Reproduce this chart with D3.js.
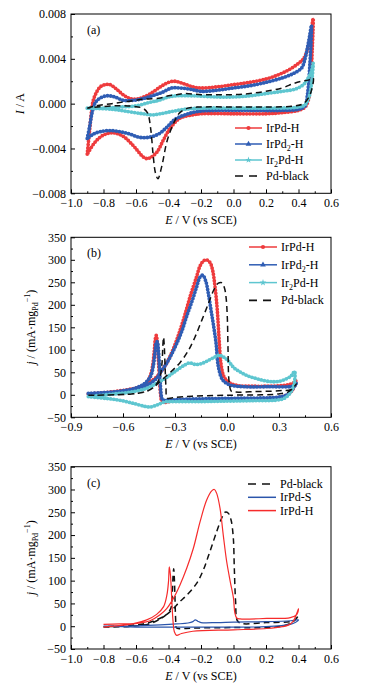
<!DOCTYPE html>
<html>
<head>
<meta charset="utf-8">
<script src="https://cdn.jsdelivr.net/npm/d3@7"></script>
<style>
    body { margin: 0; background: #fff; }
    text { font-family: "Liberation Serif", "Times New Roman", serif; }
</style>
</head>
<body>
<svg id="chart" width="381" height="691"></svg>
<script>
// ---- panel (a): I / A vs E / V ----
const aIrPdH = [[-0.90,-0.0045],[-0.887,-0.0026],[-0.873,-0.0006],[-0.863,0.0003],[-0.84,0.0011],[-0.82,0.0015],[-0.79,0.0017],[-0.76,0.0017],[-0.72,0.0013],[-0.67,0.0007],[-0.62,0.0004],[-0.57,0.0005],[-0.51,0.0009],[-0.45,0.0015],[-0.40,0.0019],[-0.36,0.0020],[-0.31,0.0018],[-0.25,0.0015],[-0.20,0.0014],[-0.10,0.0015],[0.00,0.0017],[0.10,0.0019],[0.20,0.0022],[0.28,0.0026],[0.35,0.0031],[0.40,0.0036],[0.43,0.0040],[0.45,0.0046],[0.465,0.0054],[0.478,0.0064],[0.49,0.0076],
    [0.485,0.0050],[0.475,0.0022],[0.46,0.0003],[0.44,-0.0003],[0.40,-0.0006],[0.30,-0.0008],[0.20,-0.0009],[0.00,-0.0009],[-0.20,-0.0009],[-0.25,-0.0010],[-0.33,-0.0013],[-0.39,-0.0022],[-0.43,-0.0032],[-0.47,-0.0043],[-0.51,-0.0048],[-0.535,-0.0049],[-0.56,-0.0047],[-0.59,-0.0042],[-0.62,-0.0037],[-0.68,-0.0029],[-0.74,-0.0026],[-0.80,-0.0028],[-0.85,-0.0034],[-0.90,-0.0045]];
const aIrPd2H = [[-0.90,-0.0031],[-0.885,-0.0020],[-0.87,-0.0008],[-0.85,0.0001],[-0.82,0.0005],[-0.78,0.0007],[-0.73,0.0006],[-0.68,0.0003],[-0.62,0.0003],[-0.57,0.0004],[-0.50,0.0007],[-0.44,0.0010],[-0.38,0.0014],[-0.33,0.0014],[-0.27,0.0013],[-0.20,0.0011],[-0.10,0.0012],[0.00,0.0014],[0.10,0.0016],[0.20,0.0019],[0.30,0.0023],[0.37,0.0027],[0.42,0.0032],[0.44,0.0040],[0.455,0.0050],[0.468,0.0060],[0.48,0.0070],
    [0.47,0.0035],[0.455,0.0008],[0.44,-0.0002],[0.40,-0.0005],[0.30,-0.0006],[0.10,-0.0006],[-0.10,-0.0006],[-0.22,-0.0007],[-0.30,-0.0010],[-0.36,-0.0014],[-0.41,-0.0021],[-0.46,-0.0027],[-0.52,-0.0030],[-0.58,-0.0030],[-0.64,-0.0027],[-0.70,-0.0025],[-0.76,-0.0024],[-0.82,-0.0025],[-0.86,-0.0027],[-0.90,-0.0031]];
const aIr2PdH = [[-0.90,-0.0004],[-0.80,-0.0004],[-0.70,-0.0003],[-0.60,-0.0002],[-0.52,0.0001],[-0.46,0.0003],[-0.40,0.0006],[-0.35,0.0007],[-0.25,0.0007],[-0.10,0.0006],[0.00,0.0006],[0.10,0.0007],[0.20,0.0009],[0.30,0.0011],[0.38,0.0013],[0.43,0.0017],[0.46,0.0023],[0.48,0.0029],[0.49,0.0036],
    [0.48,0.0018],[0.465,0.0006],[0.44,-0.0001],[0.40,-0.0003],[0.20,-0.0004],[0.00,-0.0004],[-0.20,-0.0004],[-0.30,-0.0005],[-0.38,-0.0007],[-0.45,-0.0009],[-0.50,-0.0010],[-0.56,-0.0009],[-0.65,-0.0007],[-0.75,-0.0005],[-0.90,-0.0004]];
const aPdBlack = [[-0.90,-0.0004],[-0.85,-0.0002],[-0.75,0.0000],[-0.65,0.0002],[-0.55,0.0004],[-0.45,0.0005],[-0.40,0.0007],[-0.35,0.0008],[-0.30,0.0009],[-0.20,0.0008],[-0.10,0.0008],[0.00,0.0008],[0.10,0.0009],[0.20,0.0011],[0.30,0.0014],[0.37,0.0018],[0.42,0.0020],[0.46,0.0021],[0.49,0.0023],
    [0.48,0.0012],[0.46,0.0005],[0.43,0.0000],[0.38,-0.0002],[0.20,-0.0003],[0.00,-0.0003],[-0.20,-0.0003],[-0.28,-0.0004],[-0.33,-0.0008],[-0.37,-0.0018],[-0.41,-0.0034],[-0.44,-0.0055],[-0.465,-0.0067],[-0.48,-0.0062],[-0.495,-0.0045],[-0.51,-0.0022],[-0.53,-0.0008],[-0.56,-0.0004],[-0.65,-0.0002],[-0.75,-0.0002],[-0.90,-0.0004]];

// ---- panel (b): j / (mA mgPd-1) vs E / V ----
const bIrPdH = [[-0.80,2],[-0.70,4],[-0.60,8],[-0.52,15],[-0.47,25],[-0.445,40],[-0.43,62],[-0.42,95],[-0.413,125],[-0.408,132],[-0.403,120],[-0.397,85],[-0.39,40],[-0.383,0],[-0.375,-15],[-0.36,-17],[-0.32,-14],[-0.20,-12],[0.00,-11],[0.20,-9],[0.30,-6],[0.35,0],[0.38,12],[0.40,32],
    [0.39,28],[0.37,24],[0.30,20],[0.15,19],[0.07,20],[0.017,26],[-0.017,40],[-0.035,70],[-0.044,114],[-0.056,188],[-0.069,240],[-0.083,277],[-0.098,294],[-0.12,300],[-0.137,297],[-0.156,286],[-0.175,263],[-0.213,218],[-0.252,166],[-0.29,122],[-0.329,85],[-0.367,59],[-0.406,40],[-0.444,29],[-0.50,18],[-0.58,11],[-0.70,5],[-0.80,2]];
const bIrPd2H = [[-0.80,3],[-0.70,5],[-0.60,9],[-0.52,16],[-0.47,27],[-0.44,42],[-0.425,65],[-0.415,95],[-0.408,115],[-0.402,118],[-0.396,100],[-0.39,65],[-0.384,20],[-0.378,-4],[-0.37,-12],[-0.35,-12],[-0.25,-10],[0.00,-8],[0.20,-7],[0.30,-5],[0.35,1],[0.38,14],[0.40,26],
    [0.39,20],[0.36,18],[0.25,18],[0.10,18],[0.017,22],[-0.025,33],[-0.05,63],[-0.063,114],[-0.08,160],[-0.092,188],[-0.108,226],[-0.122,252],[-0.14,266],[-0.155,262],[-0.175,240],[-0.20,210],[-0.233,174],[-0.26,142],[-0.29,114],[-0.32,90],[-0.348,70],[-0.38,52],[-0.406,37],[-0.44,26],[-0.48,18],[-0.54,11],[-0.65,6],[-0.80,3]];
const bIr2PdH = [[-0.80,-4],[-0.70,-8],[-0.62,-12],[-0.54,-19],[-0.47,-26],[-0.44,-27],[-0.40,-22],[-0.36,-16],[-0.30,-15],[-0.15,-15],[0.00,-14],[0.15,-13],[0.28,-12],[0.33,-8],[0.36,2],[0.38,15],[0.39,30],
    [0.39,52],[0.37,42],[0.34,35],[0.30,30],[0.27,29],[0.22,31],[0.17,36],[0.12,42],[0.08,50],[0.04,60],[0.01,74],[-0.02,84],[-0.045,88],[-0.07,84],[-0.10,78],[-0.13,72],[-0.16,68],[-0.19,68],[-0.215,71],[-0.24,67],[-0.27,60],[-0.31,49],[-0.35,38],[-0.40,27],[-0.46,15],[-0.54,7],[-0.65,2],[-0.80,-4]];
const bPdBlack = [[-0.80,-1],[-0.65,0],[-0.55,2],[-0.48,6],[-0.43,15],[-0.40,28],[-0.385,42],[-0.375,70],[-0.37,110],[-0.366,128],[-0.362,110],[-0.357,60],[-0.352,15],[-0.348,-6],[-0.34,-8],[-0.30,-6],[-0.20,-3],[0.00,-1],[0.20,0],[0.30,2],[0.35,6],[0.38,14],[0.40,24],
    [0.37,12],[0.30,9],[0.15,7],[0.05,6],[0.025,8],[0.012,30],[0.006,100],[0.002,170],[-0.005,215],[-0.015,238],[-0.03,249],[-0.05,248],[-0.075,234],[-0.105,205],[-0.145,166],[-0.185,128],[-0.225,97],[-0.27,72],[-0.31,56],[-0.35,42],[-0.39,28],[-0.45,10],[-0.55,2],[-0.80,-1]];

// ---- panel (c) ----
const cPdBlack = [[-0.80,-2],[-0.62,0],[-0.52,5],[-0.45,16],[-0.41,27],[-0.385,40],[-0.377,70],[-0.372,110],[-0.368,126],[-0.364,105],[-0.36,60],[-0.356,15],[-0.352,-3],[-0.34,-5],[-0.25,-4],[0.00,-3],[0.20,-3],[0.30,0],[0.35,6],[0.38,14],[0.40,24],
    [0.38,14],[0.35,10],[0.20,8],[0.05,6],[0.024,12],[0.013,54],[0.005,127],[-0.001,193],[-0.015,233],[-0.032,248],[-0.052,250],[-0.073,237],[-0.104,207],[-0.145,164],[-0.186,123],[-0.227,94],[-0.288,68],[-0.33,54],[-0.37,39],[-0.41,26],[-0.473,14],[-0.555,5],[-0.80,-1]];
const cIrPdS = [[-0.80,0],[-0.60,1],[-0.45,3],[-0.35,5],[-0.28,7],[-0.25,10],[-0.235,14],[-0.22,11],[-0.20,8],[-0.10,8],[0.00,9],[0.20,10],[0.35,12],[0.40,14],
    [0.38,8],[0.35,4],[0.20,-1],[0.00,-2],[-0.20,-2],[-0.40,-2],[-0.60,-2],[-0.80,0]];
const cIrPdH = [[-0.80,4],[-0.70,5],[-0.616,6],[-0.534,14],[-0.473,26],[-0.43,43],[-0.41,68],[-0.40,98],[-0.395,130],[-0.388,112],[-0.38,60],[-0.372,10],[-0.364,-12],[-0.35,-20],[-0.32,-16],[-0.25,-11],[0.00,-8],[0.204,-5],[0.30,-1],[0.34,3],[0.368,11],[0.40,38],
    [0.39,26],[0.35,19],[0.204,17],[0.04,16],[0.02,18],[0.008,30],[0.0,61],[-0.02,98],[-0.042,142],[-0.063,200],[-0.083,259],[-0.104,292],[-0.118,300],[-0.134,297],[-0.165,277],[-0.206,229],[-0.247,171],[-0.288,127],[-0.33,90],[-0.37,61],[-0.41,39],[-0.452,25],[-0.514,12],[-0.616,5],[-0.80,-2]];

// ticks
const xTicksA = [-1.0, -0.8, -0.6, -0.4, -0.2, 0.0, 0.2, 0.4, 0.6];
const xMinorA = [-0.9, -0.7, -0.5, -0.3, -0.1, 0.1, 0.3, 0.5];
const yTicksA = [-0.008, -0.004, 0.000, 0.004, 0.008];
const yMinorA = [-0.006, -0.002, 0.002, 0.006];
const xTicksB = [-0.9, -0.6, -0.3, 0.0, 0.3, 0.6];
const xMinorB = [-0.75, -0.45, -0.15, 0.15, 0.45];
const yTicksJ = [-50, 0, 50, 100, 150, 200, 250, 300, 350];
const yMinorJ = [-25, 25, 75, 125, 175, 225, 275, 325];

const svg = d3.select('#chart');

const colors = {
    red: '#ee3b3d',
    blue: '#2f5db4',
    cyan: '#5ec6d0',
    black: '#111',
    redLine: '#f62b2b',
    blueLine: '#2b55ab'
};

const left = 71, right = 331;

function drawPanel(opt) {
    const g = svg.append('g');
    const x = d3.scaleLinear().domain(opt.xDomain).range([left, right]);
    const y = d3.scaleLinear().domain(opt.yDomain).range([opt.bottom, opt.top]);

    const line = d3.line()
        .x((d) => x(d[0]))
        .y((d) => y(d[1]))
        .curve(d3.curveCatmullRom.alpha(0.5));

    opt.series.forEach((s) => {
        if (s.kind === 'dots') {
            // marker band: thin line plus a dense row of round dots
            g.append('path')
                .attr('d', line(s.data))
                .attr('fill', 'none')
                .attr('stroke', s.color)
                .attr('stroke-width', 1.8);
            g.append('path')
                .attr('d', line(s.data))
                .attr('fill', 'none')
                .attr('stroke', s.color)
                .attr('stroke-width', 3.8)
                .attr('stroke-linecap', 'round')
                .attr('stroke-dasharray', '0,3.2');
        } else {
            g.append('path')
                .attr('d', line(s.data))
                .attr('fill', 'none')
                .attr('stroke', s.color)
                .attr('stroke-width', s.kind === 'dash' ? 1.5 : 1.2)
                .attr('stroke-dasharray', s.kind === 'dash' ? '6,4' : null);
        }
    });

    // box
    g.append('rect')
        .attr('x', left)
        .attr('y', opt.top)
        .attr('width', right - left)
        .attr('height', opt.bottom - opt.top)
        .attr('fill', 'none')
        .attr('stroke', '#000')
        .attr('stroke-width', 1);

    const xAxis = d3.axisBottom(x).tickValues(opt.xTicks).tickSizeInner(-4).tickSizeOuter(0)
        .tickPadding(5).tickFormat(d3.format('.1f'));
    const xMinor = d3.axisBottom(x).tickValues(opt.xMinor).tickSizeInner(-2).tickSizeOuter(0).tickFormat('');
    const yAxis = d3.axisLeft(y).tickValues(opt.yTicks).tickSizeInner(-4).tickSizeOuter(0)
        .tickPadding(5).tickFormat(opt.yFormat);
    const yMinor = d3.axisLeft(y).tickValues(opt.yMinor).tickSizeInner(-2).tickSizeOuter(0).tickFormat('');

    [[xAxis, `translate(0,${opt.bottom})`], [xMinor, `translate(0,${opt.bottom})`],
     [yAxis, `translate(${left},0)`], [yMinor, `translate(${left},0)`]].forEach(([ax, tr]) => {
        const a = g.append('g')
            .attr('transform', tr)
            .call(ax)
            .attr('font-family', '"Liberation Serif", serif')
            .attr('font-size', 12);
        a.select('.domain').remove();
        a.selectAll('line').attr('stroke', '#000');
        a.selectAll('text').attr('fill', '#000');
    });

    // panel tag
    g.append('text')
        .attr('x', 87)
        .attr('y', opt.top + 20)
        .attr('font-size', 12)
        .text(opt.tag);

    // x title
    const xt = g.append('text')
        .attr('x', 201)
        .attr('y', opt.bottom + 31)
        .attr('text-anchor', 'middle')
        .attr('font-size', 12);
    xt.append('tspan').attr('font-style', 'italic').text('E');
    xt.append('tspan').text(' / V (vs SCE)');

    // y title
    const yt = g.append('text')
        .attr('transform', `translate(${opt.yTitleX}, ${(opt.top + opt.bottom) / 2}) rotate(-90)`)
        .attr('text-anchor', 'middle')
        .attr('font-size', 12);
    opt.yTitle(yt);

    // legend
    const lg = opt.legend;
    lg.items.forEach((it, i) => {
        const cy = lg.y + i * lg.dy;
        const row = g.append('g');
        row.append('line')
            .attr('x1', lg.x1)
            .attr('x2', it.kind === 'dash' ? lg.x1 + 22 : lg.x2)
            .attr('y1', cy)
            .attr('y2', cy)
            .attr('stroke', it.color)
            .attr('stroke-width', it.kind === 'dash' ? 1.6 : 1.5)
            .attr('stroke-dasharray', it.kind === 'dash' ? '8,6' : null);
        if (it.symbol) {
            row.append('path')
                .attr('transform', `translate(${(lg.x1 + lg.x2) / 2},${cy})`)
                .attr('d', d3.symbol().type(it.symbol).size(14)())
                .attr('fill', it.color);
        }
        const t = row.append('text')
            .attr('x', lg.x2 + 4)
            .attr('y', cy + 4)
            .attr('font-size', 12);
        it.label(t);
    });
}

const sub = (t, a, s, b) => {
    t.append('tspan').text(a);
    t.append('tspan').attr('font-size', 8).attr('dy', 3).text(s);
    t.append('tspan').attr('dy', -3).text(b);
};

const jTitle = (t) => {
    t.append('tspan').attr('font-style', 'italic').text('j');
    t.append('tspan').text(' / (mA\u00b7mg');
    t.append('tspan').attr('font-size', 8).attr('dy', 3).text('Pd');
    t.append('tspan').attr('font-size', 8).attr('dy', -8).text('\u22121');
    t.append('tspan').attr('dy', 5).text(')');
};

const legendMarked = [
    {color: colors.red, symbol: d3.symbolCircle, label: (t) => t.text('IrPd-H')},
    {color: colors.blue, symbol: d3.symbolTriangle, label: (t) => sub(t, 'IrPd', '2', '-H')},
    {color: colors.cyan, symbol: d3.symbolStar, label: (t) => sub(t, 'Ir', '2', 'Pd-H')},
    {color: colors.black, kind: 'dash', label: (t) => t.text('Pd-black')}
];

drawPanel({
    top: 14, bottom: 193.3,
    xDomain: [-1.0, 0.6], yDomain: [-0.008, 0.008],
    xTicks: xTicksA, xMinor: xMinorA, yTicks: yTicksA, yMinor: yMinorA,
    yFormat: d3.format('.3f'),
    tag: '(a)',
    yTitleX: 24,
    yTitle: (t) => {
        t.append('tspan').attr('font-style', 'italic').text('I');
        t.append('tspan').text(' / A');
    },
    series: [
        {data: aIrPdH, color: colors.red, kind: 'dots'},
        {data: aIrPd2H, color: colors.blue, kind: 'dots'},
        {data: aIr2PdH, color: colors.cyan, kind: 'dots'},
        {data: aPdBlack, color: colors.black, kind: 'dash'}
    ],
    legend: {x1: 235, x2: 262, y: 128, dy: 16, items: legendMarked}
});

drawPanel({
    top: 237.3, bottom: 417.3,
    xDomain: [-0.9, 0.6], yDomain: [-50, 350],
    xTicks: xTicksB, xMinor: xMinorB, yTicks: yTicksJ, yMinor: yMinorJ,
    yFormat: d3.format('d'),
    tag: '(b)',
    yTitleX: 35,
    yTitle: jTitle,
    series: [
        {data: bIrPdH, color: colors.red, kind: 'dots'},
        {data: bIrPd2H, color: colors.blue, kind: 'dots'},
        {data: bIr2PdH, color: colors.cyan, kind: 'dots'},
        {data: bPdBlack, color: colors.black, kind: 'dash'}
    ],
    legend: {x1: 249, x2: 277, y: 247, dy: 17.8, items: legendMarked}
});

drawPanel({
    top: 466.7, bottom: 649,
    xDomain: [-1.0, 0.6], yDomain: [-50, 350],
    xTicks: xTicksA, xMinor: xMinorA, yTicks: yTicksJ, yMinor: yMinorJ,
    yFormat: d3.format('d'),
    tag: '(c)',
    yTitleX: 35,
    yTitle: jTitle,
    series: [
        {data: cPdBlack, color: colors.black, kind: 'dash'},
        {data: cIrPdS, color: colors.blueLine, kind: 'line'},
        {data: cIrPdH, color: colors.redLine, kind: 'line'}
    ],
    legend: {x1: 248, x2: 276, y: 484, dy: 13.3, items: [
        {color: colors.black, kind: 'dash', label: (t) => t.text('Pd-black')},
        {color: colors.blueLine, label: (t) => t.text('IrPd-S')},
        {color: colors.redLine, label: (t) => t.text('IrPd-H')}
    ]}
});
</script>
</body>
</html>
